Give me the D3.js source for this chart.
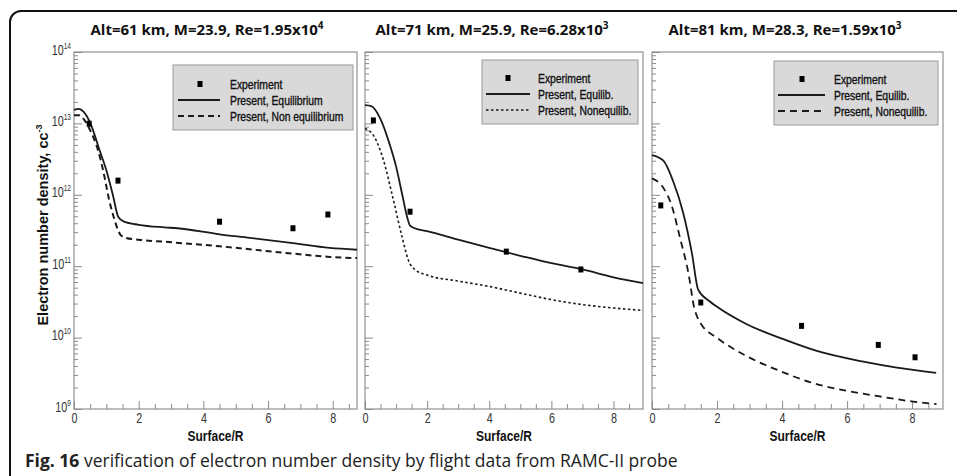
<!DOCTYPE html>
<html>
<head>
<meta charset="utf-8">
<script src="https://cdn.jsdelivr.net/npm/d3@7"></script>
<style>
  body { margin: 0; background: #fff; }
  svg { display: block; }
</style>
</head>
<body>
<svg id="chart" width="957" height="476"></svg>
<script>
// ---- data ----
const titleMain = ["Alt=61 km, M=23.9, Re=1.95x10", "Alt=71 km, M=25.9, Re=6.28x10", "Alt=81 km, M=28.3, Re=1.59x10"];
const titleExp = ["4", "3", "3"];
const legendLabels = [
  ["Experiment", "Present, Equilibrium", "Present, Non equilibrium"],
  ["Experiment", "Present, Equilib.", "Present, Nonequilib."],
  ["Experiment", "Present, Equilib.", "Present, Nonequilib."]
];
const xTickLabels = [0, 2, 4, 6, 8];
const yDecades = [9, 10, 11, 12, 13, 14];

// Alt 61 km
const exp61 = [[0.47, 9.9e12], [1.36, 1.58e12], [4.5, 4.2e11], [6.77, 3.4e11], [7.85, 5.3e11]];
const eq61 = [[0, 1.55e13], [0.15, 1.6e13], [0.3, 1.45e13], [0.5, 1.02e13], [0.8, 4.1e12], [1.0, 2.2e12],
  [1.2, 1.0e12], [1.37, 4.9e11], [1.55, 4.2e11], [2.0, 3.8e11], [2.8, 3.5e11], [3.2, 3.4e11],
  [4.5, 2.8e11], [5.44, 2.5e11], [6.77, 2.1e11], [7.9, 1.8e11], [8.75, 1.7e11]];
const neq61 = [[0, 1.3e13], [0.15, 1.3e13], [0.3, 1.15e13], [0.5, 8e12], [0.75, 4.1e12], [0.9, 2.2e12],
  [1.1, 8e11], [1.25, 4.5e11], [1.35, 3.3e11], [1.45, 2.7e11], [1.6, 2.5e11], [2.0, 2.35e11],
  [2.8, 2.2e11], [4.5, 1.9e11], [6.77, 1.5e11], [7.9, 1.35e11], [8.75, 1.3e11]];

// Alt 71 km
const exp71 = [[0.27, 1.1e13], [1.45, 5.8e11], [4.55, 1.6e11], [6.95, 9e10]];
const eq71 = [[0, 1.8e13], [0.2, 1.75e13], [0.5, 1.15e13], [0.8, 5e12], [1.0, 2.5e12], [1.2, 1e12],
  [1.35, 5e11], [1.45, 3.7e11], [1.6, 3.4e11], [2, 3.1e11], [3, 2.35e11], [4, 1.8e11], [5, 1.4e11],
  [6, 1.1e11], [7, 9e10], [8, 7e10], [8.95, 5.8e10]];
const neq71 = [[0, 8.5e12], [0.3, 6.5e12], [0.6, 3e12], [0.9, 9e11], [1.2, 2.5e11], [1.4, 1.2e11],
  [1.6, 9e10], [2, 7.5e10], [3, 6.2e10], [4, 5.2e10], [5, 4.2e10], [6, 3.4e10], [7, 2.9e10], [8, 2.6e10],
  [8.95, 2.4e10]];

// Alt 81 km
const exp81 = [[0.27, 7.1e11], [1.5, 3.1e10], [4.6, 1.46e10], [6.96, 7.9e9], [8.09, 5.3e9]];
const eq81 = [[0, 3.6e12], [0.35, 3.0e12], [0.65, 1.55e12], [0.95, 5.8e11], [1.23, 1.5e11], [1.42, 4.7e10],
  [1.78, 3.2e10], [2.0, 2.7e10], [2.9, 1.55e10], [4.04, 9.5e9], [5.07, 6.5e9], [6.5, 4.6e9],
  [7.53, 3.8e9], [8.74, 3.2e9]];
const neq81 = [[0, 1.7e12], [0.35, 1.25e12], [0.6, 7.2e11], [0.87, 2.4e11], [1.12, 8e10], [1.3, 2.6e10],
  [1.4, 1.9e10], [1.53, 1.5e10], [1.99, 1e10], [2.91, 5.5e9], [3.94, 3.4e9], [4.96, 2.3e9],
  [5.99, 1.8e9], [7.0, 1.5e9], [8.03, 1.27e9], [8.75, 1.17e9]];

// ---- layout ----
const plotTop = 52, plotBottom = 409;
const panels = [
  { x0: 74, x1: 357, xMax: 8.75, exp: exp61, eq: eq61, neq: neq61, dash: "6,4", dashW: 2,
    titleX: 207, legend: { x: 173, y: 65, w: 180, h: 65, mx: 200, l0: 178, l1: 220, tx: 230, rows: [84, 100, 116] } },
  { x0: 365, x1: 643, xMax: 8.95, exp: exp71, eq: eq71, neq: neq71, dash: "2.5,2.5", dashW: 1.6,
    titleX: 492, legend: { x: 482, y: 60, w: 156, h: 64, mx: 508, l0: 486, l1: 530, tx: 538, rows: [78, 94, 110] } },
  { x0: 652, x1: 943, xMax: 8.95, exp: exp81, eq: eq81, neq: neq81, dash: "7,5", dashW: 1.8,
    titleX: 785, legend: { x: 774, y: 61, w: 164, h: 64, mx: 802, l0: 778, l1: 825, tx: 834, rows: [79, 95, 111] } }
];

// Arial metrics, squeezed horizontally to look like Arial Narrow
const sans = "'Liberation Sans', Arial, sans-serif";
const svg = d3.select("#chart");

// outer rounded frame
svg.append("rect")
  .attr("x", 10).attr("y", 11)
  .attr("width", 970).attr("height", 500)
  .attr("rx", 11)
  .attr("fill", "none")
  .attr("stroke", "#111")
  .attr("stroke-width", 2);

const y = d3.scaleLog().domain([1e9, 1e14]).range([plotBottom, plotTop]);
const yMajor = yDecades.map(e => 10 ** e);
const yMinor = yDecades.slice(0, -1).flatMap(e => d3.range(2, 10).map(k => k * 10 ** e));

panels.forEach((p, i) => {
  const x = d3.scaleLinear().domain([0, p.xMax]).range([p.x0, p.x1]);
  const g = svg.append("g");

  // title
  const t = g.append("text")
    .attr("x", p.titleX).attr("y", 35)
    .attr("text-anchor", "middle")
    .style("font-family", "'Open Sans', sans-serif")
    .style("font-weight", "bold")
    .style("font-size", "15px")
    .attr("fill", "#111");
  t.append("tspan").text(titleMain[i]);
  t.append("tspan").attr("dy", -6).style("font-size", "10px").text(titleExp[i]);

  // plot box
  g.append("rect")
    .attr("x", p.x0).attr("y", plotTop)
    .attr("width", p.x1 - p.x0).attr("height", plotBottom - plotTop)
    .attr("fill", "#fff")
    .attr("stroke", "#9a9a9a")
    .attr("stroke-width", 1.3);

  // x axis ticks
  const xMinor = d3.range(0.5, p.xMax, 0.5).filter(v => v % 2 !== 0);
  const xMajor = xTickLabels.filter(v => v <= p.xMax);
  g.append("g")
    .attr("transform", `translate(0,${plotBottom})`)
    .call(d3.axisBottom(x).tickValues(xMinor).tickSize(-5).tickFormat(""))
    .call(a => a.select(".domain").remove());
  g.append("g")
    .attr("transform", `translate(0,${plotBottom})`)
    .call(d3.axisBottom(x).tickValues(xMajor).tickSize(-8).tickFormat(d3.format("d")))
    .call(a => a.select(".domain").remove())
    .call(a => a.selectAll("text")
      .style("font-family", sans).style("font-size", "14px").attr("fill", "#333")
      .attr("y", 4).attr("dy", "0.71em")
      .attr("transform", "scale(0.77,1)"));

  // y axis ticks
  g.append("g")
    .attr("transform", `translate(${p.x0},0)`)
    .call(d3.axisLeft(y).tickValues(yMinor).tickSize(-4).tickFormat(""))
    .call(a => a.select(".domain").remove());
  const ya = g.append("g")
    .attr("transform", `translate(${p.x0},0)`)
    .call(d3.axisLeft(y).tickValues(yMajor).tickSize(-8).tickFormat(""))
    .call(a => a.select(".domain").remove());

  g.selectAll(".tick line").attr("stroke", "#8a8a8a").attr("stroke-width", 1);

  if (i === 0) {
    ya.selectAll(".tick").each(function (d) {
      const tx = d3.select(this).append("text")
        .attr("x", -4).attr("y", 2)
        .attr("text-anchor", "end")
        .attr("transform", "scale(0.77,1)")
        .style("font-family", sans)
        .style("font-size", "14px")
        .attr("fill", "#333");
      tx.append("tspan").text("10");
      tx.append("tspan").attr("dy", -6).style("font-size", "8.5px").text(Math.round(Math.log10(d)));
    });
  }

  // x title
  g.append("text")
    .attr("transform", `translate(${(p.x0 + p.x1) / 2},441) scale(0.8,1)`)
    .attr("text-anchor", "middle")
    .style("font-family", sans)
    .style("font-weight", "bold")
    .style("font-size", "15px")
    .attr("fill", "#111")
    .text("Surface/R");

  // curves
  const line = d3.line().x(d => x(d[0])).y(d => y(d[1])).curve(d3.curveMonotoneX);
  g.append("path").datum(p.eq)
    .attr("d", line)
    .attr("fill", "none").attr("stroke", "#1a1a1a").attr("stroke-width", 1.8);
  g.append("path").datum(p.neq)
    .attr("d", line)
    .attr("fill", "none").attr("stroke", "#1a1a1a").attr("stroke-width", p.dashW)
    .attr("stroke-dasharray", p.dash);

  // experiment points
  g.selectAll(".pt").data(p.exp).enter().append("rect")
    .attr("class", "pt")
    .attr("x", d => x(d[0]) - 2.5).attr("y", d => y(d[1]) - 3)
    .attr("width", 5).attr("height", 6)
    .attr("fill", "#000");

  // legend
  const L = p.legend;
  const lg = g.append("g");
  lg.append("rect")
    .attr("x", L.x).attr("y", L.y).attr("width", L.w).attr("height", L.h)
    .attr("fill", "#d9d9d9").attr("stroke", "#9a9a9a").attr("stroke-width", 1);
  lg.append("rect")
    .attr("x", L.mx - 2.5).attr("y", L.rows[0] - 3).attr("width", 5).attr("height", 6).attr("fill", "#000");
  lg.append("line")
    .attr("x1", L.l0).attr("x2", L.l1).attr("y1", L.rows[1]).attr("y2", L.rows[1])
    .attr("stroke", "#1a1a1a").attr("stroke-width", 1.8);
  lg.append("line")
    .attr("x1", L.l0).attr("x2", L.l1).attr("y1", L.rows[2]).attr("y2", L.rows[2])
    .attr("stroke", "#1a1a1a").attr("stroke-width", p.dashW).attr("stroke-dasharray", p.dash);
  lg.selectAll(".lt").data(legendLabels[i]).enter().append("text")
    .attr("transform", (d, k) => `translate(${L.tx},${L.rows[k] + 4.5}) scale(0.83,1)`)
    .style("font-family", sans)
    .style("font-size", "12.5px")
    .attr("fill", "#111")
    .attr("stroke", "#111")
    .attr("stroke-width", 0.35)
    .text(d => d);
});

// y title
const yt = svg.append("text")
  .attr("transform", "translate(48,225) rotate(-90)")
  .attr("text-anchor", "middle")
  .style("font-family", sans)
  .style("font-weight", "bold")
  .style("font-size", "14.5px")
  .attr("fill", "#111");
yt.append("tspan").text("Electron number density, cc");
yt.append("tspan").attr("dy", -6).style("font-size", "9px").text("-3");

// caption
const cap = svg.append("text")
  .attr("x", 25).attr("y", 467)
  .style("font-family", "'Open Sans', sans-serif")
  .style("font-size", "17.5px")
  .attr("fill", "#222");
cap.append("tspan").style("font-weight", "bold").text("Fig. 16");
cap.append("tspan").text(" verification of electron number density by flight data from RAMC-II probe");
</script>
</body>
</html>
